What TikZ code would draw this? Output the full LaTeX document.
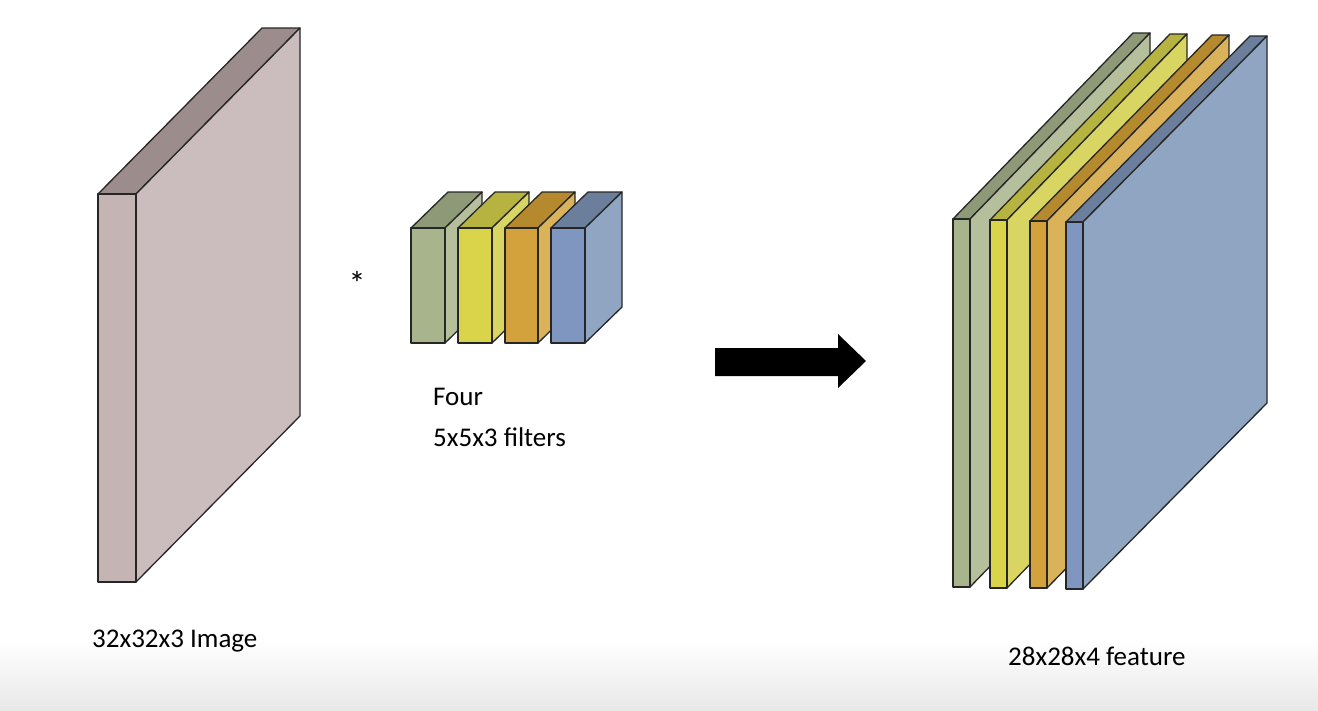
\documentclass[tikz,border=0pt]{standalone}
\usepackage{fontspec}
\setmainfont{Carlito}
\definecolor{imF}{HTML}{C4B4B4}\definecolor{imS}{HTML}{CBBDBD}\definecolor{imT}{HTML}{9C8C8C}
\definecolor{gF}{HTML}{A8B48C}\definecolor{gS}{HTML}{B5BF9C}\definecolor{gT}{HTML}{8E9978}
\definecolor{yF}{HTML}{DAD44A}\definecolor{yS}{HTML}{D8D562}\definecolor{yT}{HTML}{B6B340}
\definecolor{oF}{HTML}{D4A23C}\definecolor{oS}{HTML}{D9B25A}\definecolor{oT}{HTML}{B5892E}
\definecolor{bF}{HTML}{7F97C0}\definecolor{bS}{HTML}{90A5C2}\definecolor{bT}{HTML}{6B7F9C}
% \myslab{x1}{x2}{ytop}{ybot}{dx}{dy}{front}{side}{top}
\newcommand\myslab[9]{%
  \draw[edge,fill=#9] (#1,#3) -- (#2,#3) -- ++(#5,-#6) -- ++(#1-#2,0) -- cycle;
  \draw[edge,fill=#8] (#2,#3) -- ++(#5,-#6) -- ++(0,#4-#3) -- (#2,#4) -- cycle;
  \draw[edge,fill=#7] (#1,#3) rectangle (#2,#4);}
\begin{document}
\begin{tikzpicture}[x=1pt,y=-1pt,edge/.style={draw=black!85,line width=1.3pt,line join=round},
  lab/.style={font=\fontsize{27}{32}\selectfont,anchor=west,inner sep=0}]
\useasboundingbox (0,0) rectangle (1318,710);
\shade[top color=white,bottom color=black!9] (0,640) rectangle (1318,710);
% image
\myslab{98}{136}{194}{582}{164}{166}{imF}{imS}{imT}
% filters
\myslab{411}{445}{228}{343}{37}{36}{gF}{gS}{gT}
\myslab{458}{492}{228}{343}{37}{36}{yF}{yS}{yT}
\myslab{505}{538}{228}{343}{37}{36}{oF}{oS}{oT}
\myslab{551}{585}{228}{343}{37}{36}{bF}{bS}{bT}
% features
\myslab{953}{970}{219}{587}{180}{186}{gF}{gS}{gT}
\myslab{990}{1007}{220}{588}{180}{186}{yF}{yS}{yT}
\myslab{1030}{1047}{221}{588}{182}{186}{oF}{oS}{oT}
\myslab{1066}{1083}{222}{589}{184}{186}{bF}{bS}{bT}
% arrow
\fill[black] (715,348) -- (838,348) -- (838,334) -- (866,361) -- (838,388) -- (838,376) -- (715,376) -- cycle;
\node[font=\fontsize{34}{34}\selectfont] (ast) at (357,283) {*};
\node[lab] (four) at (433,397) {Four};
\node[lab] (filt) at (433,437) {5x5x3 filters};
\node[lab] (img) at (92,641) {32x32x3 Image};
\node[lab] (feat) at (1008,656) {28x28x4 feature};
\end{tikzpicture}
\end{document}
